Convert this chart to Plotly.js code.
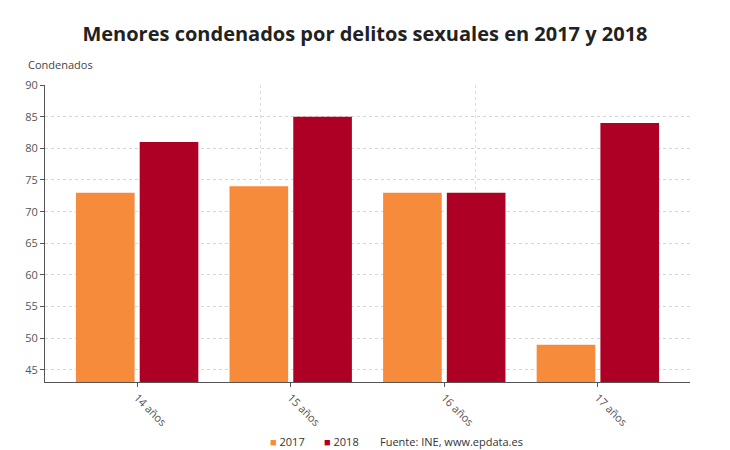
<!DOCTYPE html>
<html><head><meta charset="utf-8">
<script src="https://cdn.plot.ly/plotly-3.0.1.min.js"></script>
<style>body{margin:0;background:#fff}#chart{width:730px;height:450px}</style>
</head><body><div id="chart"></div>
<script>
const categories = ["14 años", "15 años", "16 años", "17 años"];
const values2017 = [73, 74, 73, 49];
const values2018 = [81, 85, 73, 84];
const seriesNames = ["2017", "2018"];
const seriesColors = ["#F68B3C", "#AE0024"];
const yTicks = [45, 50, 55, 60, 65, 70, 75, 80, 85, 90];

const font = "'Open Sans', sans-serif";
const traces = [
  {type: "bar", name: seriesNames[0], x: categories, y: values2017,
   marker: {color: seriesColors[0]}, showlegend: false},
  {type: "bar", name: seriesNames[1], x: categories, y: values2018,
   marker: {color: seriesColors[1]}, showlegend: false},
  {type: "scatter", x: [0, 3], y: [null, null], xaxis: "x2", showlegend: false, hoverinfo: "skip"}
];
const legendAnn = (i, x) => ({
  text: "<span style='color:" + seriesColors[i] + "'>■</span> " + seriesNames[i],
  xref: "paper", yref: "paper", x: x, y: -0.2, xanchor: "left", yanchor: "middle",
  showarrow: false, font: {size: 11, color: "#333"}
});
const layout = {
  width: 730, height: 450,
  margin: {l: 45, r: 40, t: 85, b: 68},
  paper_bgcolor: "#fff", plot_bgcolor: "#fff",
  font: {family: font, color: "#555", size: 11},
  showlegend: false,
  title: {text: "<b>Menores condenados por delitos sexuales en 2017 y 2018</b>",
          x: 0.5, xanchor: "center", y: 0.925, yanchor: "middle",
          font: {family: font, size: 20, color: "#222"}},
  barmode: "group", bargap: 0.17, bargroupgap: 0.08,
  xaxis: {type: "category", range: [-0.6, 3.6], showgrid: false, automargin: false,
          showline: true, linecolor: "#555", linewidth: 1,
          ticks: "outside", ticklen: 4, tickcolor: "#555",
          tickangle: 45, tickfont: {size: 11, color: "#555"}},
  xaxis2: {overlaying: "x", range: [0, 3], dtick: 1, showgrid: true, automargin: false,
           gridcolor: "#ddd", griddash: "dot", showticklabels: false,
           zeroline: false, ticks: "", layer: "below traces"},
  yaxis: {range: [43.1, 90], tickvals: yTicks, showgrid: true, automargin: false,
          gridcolor: "#d6d6d6", griddash: "dot", gridwidth: 1,
          showline: true, linecolor: "#555", linewidth: 1,
          ticks: "outside", ticklen: 4, tickcolor: "#555",
          zeroline: false, tickfont: {size: 11, color: "#555"}},
  annotations: [
    {text: "Condenados", xref: "paper", yref: "paper", x: -0.03, y: 1.07,
     xanchor: "left", yanchor: "middle", showarrow: false,
     font: {size: 11, color: "#444"}},
    legendAnn(0, 0.345),
    legendAnn(1, 0.429),
    {text: "Fuente: INE, www.epdata.es", xref: "paper", yref: "paper", x: 0.516, y: -0.2,
     xanchor: "left", yanchor: "middle", showarrow: false,
     font: {size: 11, color: "#333"}}
  ]
};
Plotly.newPlot("chart", traces, layout, {displayModeBar: false});
</script></body></html>
